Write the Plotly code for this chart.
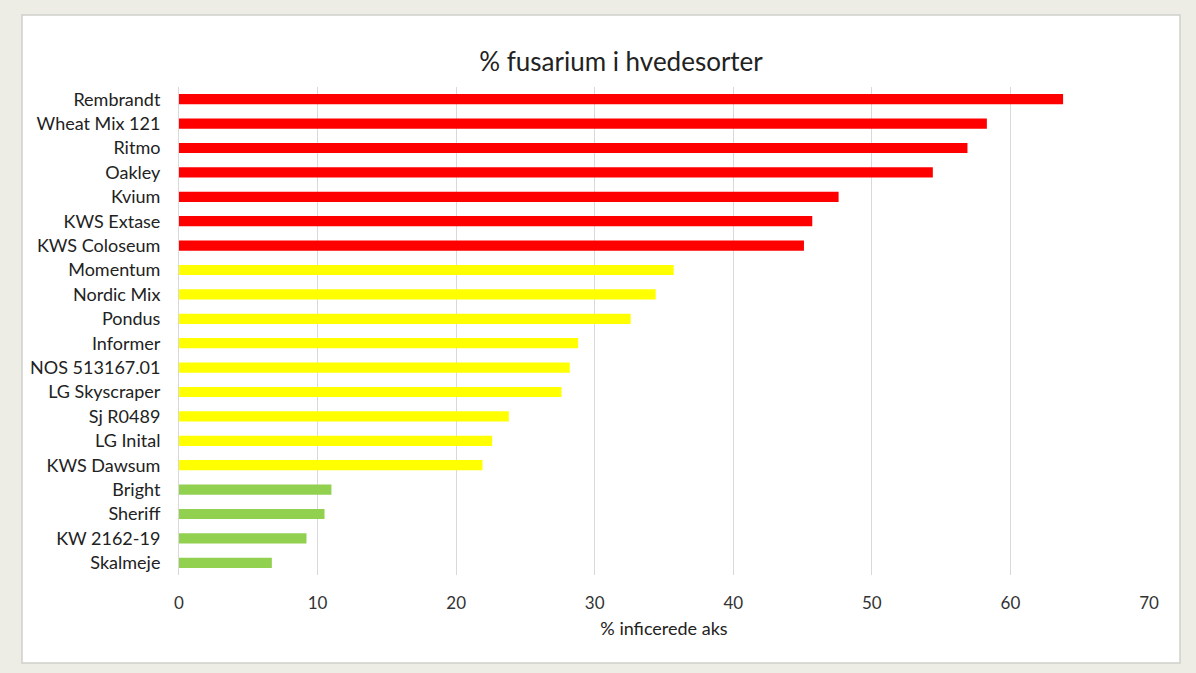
import plotly.graph_objects as go

categories = ["Rembrandt", "Wheat Mix 121", "Ritmo", "Oakley", "Kvium", "KWS Extase",
              "KWS Coloseum", "Momentum", "Nordic Mix", "Pondus", "Informer",
              "NOS 513167.01", "LG Skyscraper", "Sj R0489", "LG Inital", "KWS Dawsum",
              "Bright", "Sheriff", "KW 2162-19", "Skalmeje"]
values = [63.8, 58.3, 56.9, 54.4, 47.6, 45.7, 45.1, 35.7, 34.4, 32.6, 28.8,
          28.2, 27.6, 23.8, 22.6, 21.9, 11.0, 10.5, 9.2, 6.7]
groups = ["high"] * 7 + ["mid"] * 9 + ["low"] * 4
group_colors = {"high": "#FF0000", "mid": "#FFFF00", "low": "#92D050"}
colors = [group_colors[g] for g in groups]

W, H = 1196, 673
L, R, T, B = 179, 47, 87, 98
pw, ph = W - L - R, H - T - B

def px_x(p):
    return (p - L) / pw

def px_y(p):
    return (H - B - p) / ph

fig = go.Figure(go.Bar(
    x=values, y=categories, orientation="h",
    marker=dict(color=colors, line=dict(width=0)),
    width=0.42,
))

font = "Lato, 'Open Sans', sans-serif"
fig.update_layout(
    width=W, height=H,
    margin=dict(l=L, r=R, t=T, b=B),
    paper_bgcolor="#EDEDE6",
    plot_bgcolor="white",
    showlegend=False,
    font=dict(family=font, color="#333333", size=17),
    title=dict(text="% fusarium i hvedesorter", x=621 / W, xanchor="center",
               xref="container", y=1 - 62 / H, yanchor="middle",
               font=dict(size=26, color="#222222", family=font)),
    shapes=[dict(type="rect", xref="paper", yref="paper",
                 x0=px_x(22), x1=px_x(1180), y0=px_y(663), y1=px_y(15),
                 fillcolor="white", line=dict(color="#D0D0CC", width=1.5),
                 layer="below")],
    xaxis=dict(range=[0, 70], dtick=10, tick0=0, showgrid=True,
               gridcolor="#D9D9D9", gridwidth=1, zeroline=False,
               showline=False, ticks="", ticklabelstandoff=16,
               tickfont=dict(size=17, color="#333333"),
               title=dict(text="% inficerede aks", standoff=10,
                          font=dict(size=18, color="#222222"))),
    yaxis=dict(autorange="reversed", showgrid=False, zeroline=False,
               showline=True, linecolor="#D9D9D9", linewidth=1, ticks="",
               ticklabelstandoff=14,
               tickfont=dict(size=18, color="#222222")),
    bargap=0.58,
)
fig.write_html("out.html", config={"displayModeBar": False},
               post_script="document.body.style.margin='0';document.body.style.background='#EDEDE6';")
